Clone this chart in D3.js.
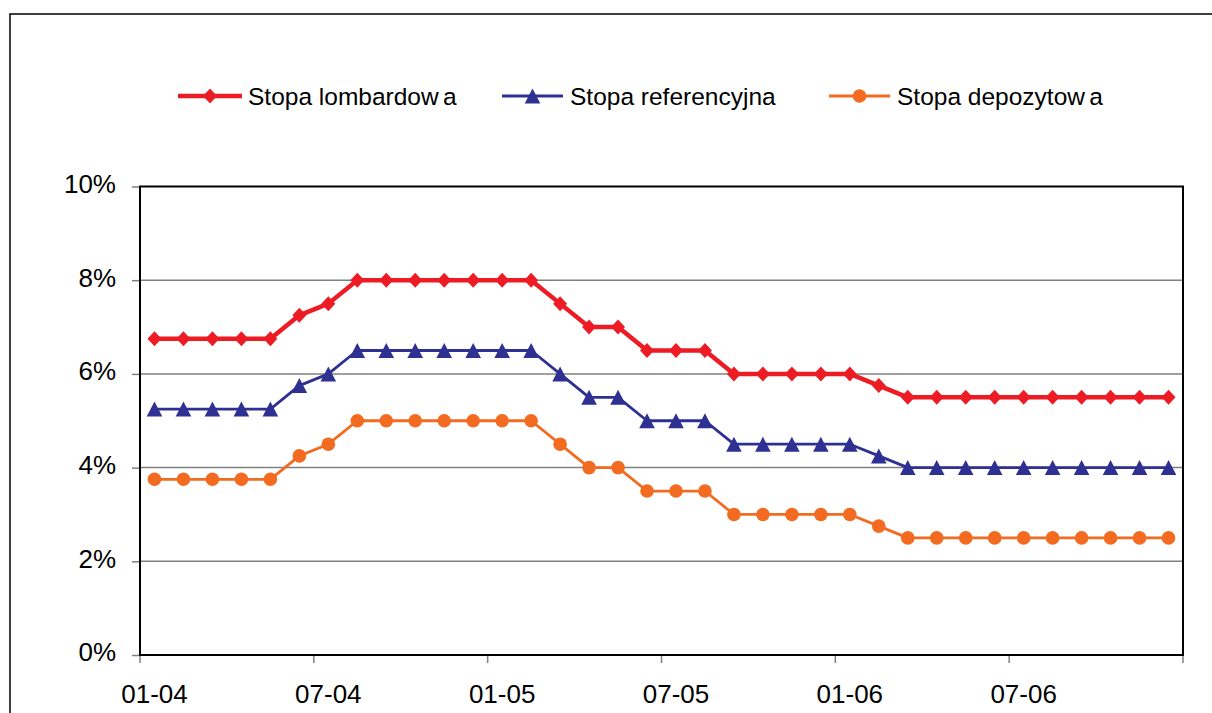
<!DOCTYPE html>
<html><head><meta charset="utf-8">
<script src="https://cdn.jsdelivr.net/npm/d3@7"></script>
<style>body{margin:0;background:#fff}svg{display:block}text{font-family:"Liberation Sans",Arial,sans-serif;fill:#000}</style>
</head><body>
<script>
const months = ["01-04","02-04","03-04","04-04","05-04","06-04","07-04","08-04","09-04","10-04","11-04","12-04",
"01-05","02-05","03-05","04-05","05-05","06-05","07-05","08-05","09-05","10-05","11-05","12-05",
"01-06","02-06","03-06","04-06","05-06","06-06","07-06","08-06","09-06","10-06","11-06","12-06"];
const lombard = [6.75,6.75,6.75,6.75,6.75,7.25,7.5,8,8,8,8,8,8,8,7.5,7,7,6.5,6.5,6.5,6,6,6,6,6,5.75,5.5,5.5,5.5,5.5,5.5,5.5,5.5,5.5,5.5,5.5];
const referencyjna = [5.25,5.25,5.25,5.25,5.25,5.75,6,6.5,6.5,6.5,6.5,6.5,6.5,6.5,6,5.5,5.5,5,5,5,4.5,4.5,4.5,4.5,4.5,4.25,4,4,4,4,4,4,4,4,4,4];
const depozytowa = [3.75,3.75,3.75,3.75,3.75,4.25,4.5,5,5,5,5,5,5,5,4.5,4,4,3.5,3.5,3.5,3,3,3,3,3,2.75,2.5,2.5,2.5,2.5,2.5,2.5,2.5,2.5,2.5,2.5];
const yTicks = [0,2,4,6,8,10];
const xLabels = ["01-04","07-04","01-05","07-05","01-06","07-06"];
const seriesNames = ["Stopa lombardow a","Stopa referencyjna","Stopa depozytow a"];

const W=1212,H=713;
const svg=d3.select("body").append("svg").attr("width",W).attr("height",H);
// outer chart border
svg.append("rect").attr("x",10).attr("y",14).attr("width",1300).attr("height",800)
  .attr("fill","none").attr("stroke","#000").attr("stroke-width",1.5);

const L=140,R=1183,T=186.5,B=655;
const x=d3.scaleBand().domain(months).range([L,R]);
const y=d3.scaleLinear().domain([0,10]).range([B,T]);
const cx=d=>x(d)+x.bandwidth()/2;

// gridlines
svg.append("g").selectAll("line").data(yTicks.filter(v=>v>0&&v<10)).join("line")
  .attr("x1",L).attr("x2",R).attr("y1",d=>y(d)).attr("y2",d=>y(d))
  .attr("stroke","#808080").attr("stroke-width",1.5);

// y axis
const ya=svg.append("g").attr("transform",`translate(${L},0)`)
  .call(d3.axisLeft(y).tickValues(yTicks).tickSize(8).tickPadding(0).tickFormat(d=>d+"%"));
ya.select(".domain").remove();
ya.selectAll(".tick line").attr("stroke","#808080").attr("stroke-width",1.5);
ya.selectAll(".tick text").attr("x",-24).attr("dy","0.34em").attr("y",-3)
  .style("font-size","26px").style("font-family","Liberation Sans, Arial, sans-serif").attr("fill","#000");

// x axis ticks at band boundaries
const tickPos = months.filter((m,i)=>i%6===0).map(m=>x(m)).concat([R]);
svg.append("g").selectAll("line").data(tickPos).join("line")
  .attr("x1",d=>d).attr("x2",d=>d).attr("y1",B).attr("y2",B+8)
  .attr("stroke","#808080").attr("stroke-width",1.5);
svg.append("g").selectAll("text").data(xLabels).join("text")
  .attr("x",d=>cx(d)).attr("y",703).attr("text-anchor","middle")
  .style("font-size","26px").text(d=>d);

// plot border
svg.append("rect").attr("x",L).attr("y",T).attr("width",R-L).attr("height",B-T)
  .attr("fill","none").attr("stroke","#000").attr("stroke-width",2);

const cols=["#ED1C24","#2E3192","#F36B21"];
const widths=[4.5,2.8,2.8];
const data=[lombard,referencyjna,depozytowa];

function marker(g,i,px,py){
  if(i===0){
    g.append("path").attr("d",`M${px},${py-7.5}L${px+7},${py}L${px},${py+7.5}L${px-7},${py}Z`).attr("fill",cols[i]);
  } else if(i===1){
    g.append("path").attr("d",`M${px},${py-7.5}L${px+7.8},${py+7.5}L${px-7.8},${py+7.5}Z`).attr("fill",cols[i]);
  } else {
    g.append("circle").attr("cx",px).attr("cy",py).attr("r",6.8).attr("fill",cols[i]);
  }
}

data.forEach((vals,i)=>{
  const line=d3.line().x((d,j)=>cx(months[j])).y(d=>y(d));
  svg.append("path").datum(vals).attr("d",line).attr("fill","none")
    .attr("stroke",cols[i]).attr("stroke-width",widths[i]).attr("stroke-linejoin","round");
  const g=svg.append("g");
  vals.forEach((v,j)=>marker(g,i,cx(months[j]),y(v)));
});

// legend
const lg=[{x1:178,x2:242,tx:248},{x1:502,x2:563,tx:570},{x1:829,x2:890,tx:897}];
const ly=96;
lg.forEach((l,i)=>{
  const g=svg.append("g");
  g.append("line").attr("x1",l.x1).attr("x2",l.x2).attr("y1",ly).attr("y2",ly)
    .attr("stroke",cols[i]).attr("stroke-width",widths[i]);
  marker(g,i,(l.x1+l.x2)/2,ly);
  const t=g.append("text").attr("x",l.tx).attr("y",ly+9).style("font-size","24.5px");
  const name=seriesNames[i];
  const k=name.lastIndexOf("w a");
  if(k>=0){
    t.append("tspan").text(name.slice(0,k+1));
    t.append("tspan").style("word-spacing","-2.5px").text(name.slice(k+1));
  } else t.text(name);
});
</script>
</body></html>
